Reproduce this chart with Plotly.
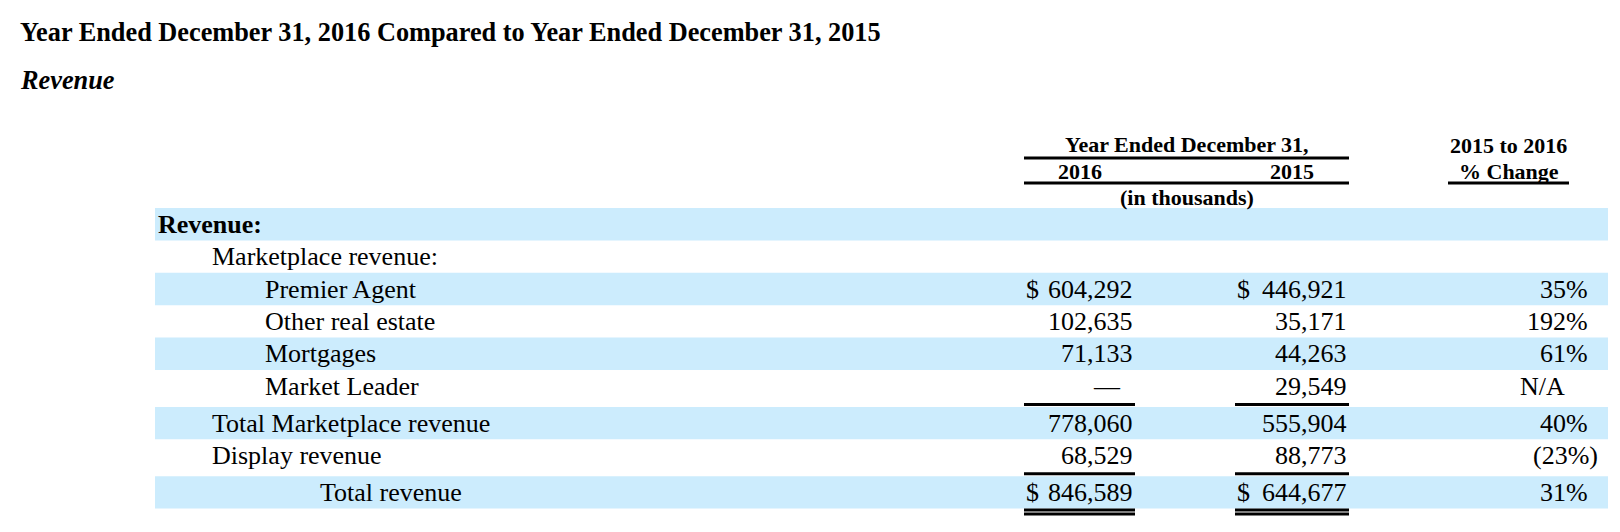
import plotly.graph_objects as go

# table data
row_labels = [
    "Revenue:", "Marketplace revenue:", "Premier Agent", "Other real estate",
    "Mortgages", "Market Leader", "Total Marketplace revenue",
    "Display revenue", "Total revenue",
]
row_indent = [0, 1, 2, 2, 2, 2, 1, 1, 3]
rev_2016 = [None, None, 604292, 102635, 71133, 0, 778060, 68529, 846589]
rev_2015 = [None, None, 446921, 35171, 44263, 29549, 555904, 88773, 644677]
pct_change = [None, None, 35, 192, 61, "N/A", 40, -23, 31]

dollar_rows = [2, 8]
shaded_rows = [0, 2, 4, 6, 8]
single_rule_after = [5, 7]
double_rule_after = [8]

title = "Year Ended December 31, 2016 Compared to Year Ended December 31, 2015"
subtitle = "Revenue"
head_span = "Year Ended December 31,"
head_years = ["2016", "2015"]
head_units = "(in thousands)"
head_pct = ["2015 to 2016", "% Change"]

# layout (page pixels); the page body has an 8px margin
W, H = 1620, 532
PAD = 8
FONT = "Liberation Serif"
BAND = "#CCECFD"
band_x0, band_x1 = 155, 1608
indent_x = [156, 210, 263, 318]
col_2016 = (1024, 1135)
col_2015 = (1235, 1349)
pct_col = (1448, 1569)
pct_right = 1590
row_top0 = 208
row_h = 32.4
rule_gap = 4.5
body_size, head_size, title_size = 26, 22, 26.3


def fmt_num(v):
    if v is None:
        return ""
    if v == 0:
        return "\u2014"
    return f"{v:,}"


def fmt_pct(v):
    if v is None:
        return ""
    if isinstance(v, str):
        return v
    if v < 0:
        return f"({-v}%)"
    return f"{v}%"


def right_shift(s):
    if s.endswith(")"):
        return 10
    if s == "N/A":
        return -23
    if s == "\u2014":
        return -12
    return 0


# row positions
tops = []
y = row_top0
for i in range(len(row_labels)):
    tops.append(y)
    y += row_h
    if i in single_rule_after:
        y += rule_gap
centers = [t + row_h / 2 for t in tops]

fig = go.Figure()

# shaded bands
fig.add_trace(go.Bar(
    orientation="h",
    y=[centers[i] for i in shaded_rows],
    x=[band_x1 - band_x0] * len(shaded_rows),
    base=band_x0,
    width=row_h,
    marker=dict(color=BAND, line=dict(width=0)),
    hoverinfo="skip",
    showlegend=False,
))

# rules
rx, ry = [], []


def add_rule(x0, x1, yy):
    rx.extend([x0, x1, None])
    ry.extend([yy, yy, None])


for col in (col_2016, col_2015):
    for i in single_rule_after:
        add_rule(col[0], col[1], tops[i] + row_h + 2)
    for i in double_rule_after:
        add_rule(col[0], col[1], tops[i] + row_h + 1.5)
        add_rule(col[0], col[1], tops[i] + row_h + 5.5)

add_rule(col_2016[0], col_2015[1], 158)
add_rule(col_2016[0], col_2015[1], 183)
add_rule(pct_col[0], pct_col[1], 183)

fig.add_trace(go.Scatter(
    x=rx, y=ry, mode="lines",
    line=dict(color="black", width=3),
    hoverinfo="skip", showlegend=False,
))

ann = []


def text(x, yy, s, anchor="left", size=body_size):
    ann.append(dict(
        x=x, y=yy, xref="x", yref="y", text=s, showarrow=False,
        xanchor=anchor, yanchor="middle",
        font=dict(family=FONT, size=size, color="black"),
    ))


text(18, 32, f"<b>{title}</b>", size=title_size)
text(18, 80, f"<b><i>{subtitle}</i></b>", size=title_size)

mid_span = (col_2016[0] + col_2015[1]) / 2
text(mid_span, 144, f"<b>{head_span}</b>", "center", head_size)
text(sum(col_2016) / 2, 171, f"<b>{head_years[0]}</b>", "center", head_size)
text(sum(col_2015) / 2, 171, f"<b>{head_years[1]}</b>", "center", head_size)
text(mid_span, 197, f"<b>{head_units}</b>", "center", head_size)
pct_mid = sum(pct_col) / 2
text(pct_mid, 145, f"<b>{head_pct[0]}</b>", "center", head_size)
text(pct_mid, 171, f"<b>{head_pct[1]}</b>", "center", head_size)

for i, lab in enumerate(row_labels):
    yc = centers[i]
    s = f"<b>{lab}</b>" if i == 0 else lab
    text(indent_x[row_indent[i]], yc, s)
    for col, vals in ((col_2016, rev_2016), (col_2015, rev_2015)):
        v = fmt_num(vals[i])
        if v:
            text(col[1] + right_shift(v), yc, v, "right")
            if i in dollar_rows:
                text(col[0], yc, "$")
    p = fmt_pct(pct_change[i])
    if p:
        text(pct_right + right_shift(p), yc, p, "right")

fig.update_layout(
    width=W - 2 * PAD, height=H - 2 * PAD,
    margin=dict(l=0, r=0, t=0, b=0),
    paper_bgcolor="white", plot_bgcolor="white",
    xaxis=dict(range=[PAD, W - PAD], visible=False, fixedrange=True),
    yaxis=dict(range=[H - PAD, PAD], visible=False, fixedrange=True),
    annotations=ann,
    barmode="overlay",
)

fig.write_html("out.html", config={"displayModeBar": False})
